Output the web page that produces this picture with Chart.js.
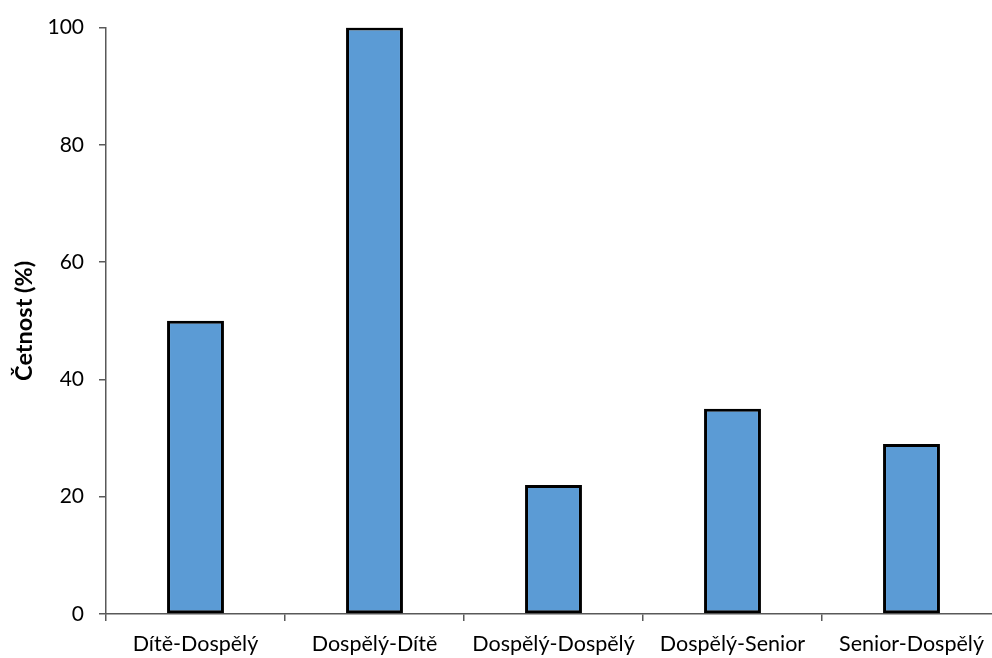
<!DOCTYPE html>
<html>
<head>
<meta charset="utf-8">
<script src="https://cdn.jsdelivr.net/npm/chart.js@4"></script>
<style>
  html, body { margin: 0; padding: 0; background: #fff; overflow: hidden; }
  #wrap { width: 992px; height: 658px; overflow: hidden; }
</style>
</head>
<body>
<div id="wrap"><canvas id="c" width="1010" height="658"></canvas></div>
<script>
const categories = ['Dítě-Dospělý', 'Dospělý-Dítě', 'Dospělý-Dospělý', 'Dospělý-Senior', 'Senior-Dospělý'];
const frequencies = [50, 100, 22, 35, 29];
const yTicks = [0, 20, 40, 60, 80, 100];

const axisColor = '#595959';
const fontFamily = "Lato, 'Open Sans', sans-serif";

new Chart(document.getElementById('c'), {
  type: 'bar',
  data: {
    labels: categories,
    datasets: [{
      data: frequencies,
      backgroundColor: '#5B9BD5',
      borderColor: '#000000',
      borderWidth: 3,
      borderSkipped: false,
      categoryPercentage: 1,
      barPercentage: 0.318
    }]
  },
  options: {
    responsive: false,
    animation: false,
    layout: { padding: { left: 0, right: 9, top: 23, bottom: 0 } },
    plugins: { legend: { display: false }, tooltip: { enabled: false } },
    scales: {
      x: {
        grid: { display: true, drawOnChartArea: false, tickLength: 7, color: axisColor, lineWidth: 1.5 },
        border: { color: axisColor, width: 1.5 },
        ticks: { color: '#000', font: { family: fontFamily, size: 21.5 }, padding: 10, maxRotation: 0 },
        afterFit: s => { s.height = 44; }
      },
      y: {
        min: 0,
        max: 100,
        afterBuildTicks: s => { s.ticks = yTicks.map(v => ({ value: v })); },
        grid: { display: true, drawOnChartArea: false, tickLength: 7, color: axisColor, lineWidth: 1.5 },
        border: { color: axisColor, width: 1.5 },
        ticks: { color: '#000', font: { family: fontFamily, size: 21 }, padding: 15 },
        title: { display: true, text: 'Četnost (%)', color: '#000', font: { family: fontFamily, size: 23.5, weight: 'bold' }, padding: { top: 10, bottom: 0 } },
        afterFit: s => { s.width = 106; }
      }
    }
  }
});
</script>
</body>
</html>
